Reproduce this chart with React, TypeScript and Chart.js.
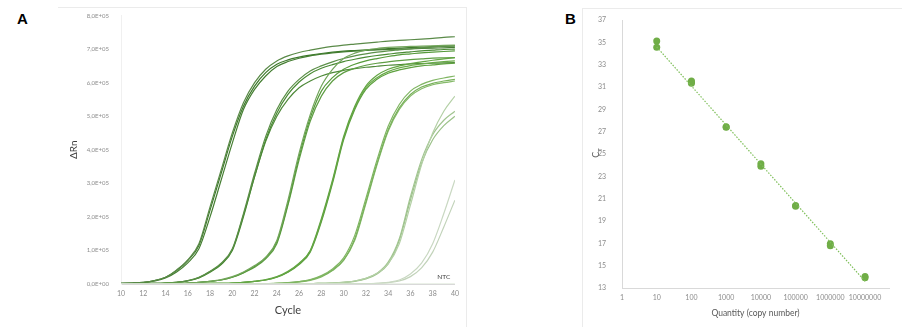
import React, { useEffect, useRef } from 'react';
import { Chart, registerables } from 'chart.js';

Chart.register(...registerables);

// ---------- Panel A: amplification curves (ΔRn, units of 1E+05) ----------
const CYCLES = [10, 11, 12, 13, 14, 15, 16, 17, 18, 19, 20, 21, 22, 23, 24, 25, 26, 27, 28, 29, 30, 31, 32, 33, 34, 35, 36, 37, 38, 39, 40];

const G1A = [0.02, 0.03, 0.05, 0.1, 0.2, 0.42, 0.72, 1.2, 2.3, 3.4, 4.5, 5.4, 6.0, 6.4, 6.65, 6.8, 6.9, 6.97, 7.03, 7.08, 7.12, 7.15, 7.18, 7.21, 7.24, 7.26, 7.28, 7.3, 7.32, 7.35, 7.37];
const G1B = [0.02, 0.03, 0.05, 0.1, 0.2, 0.4, 0.7, 1.15, 2.2, 3.3, 4.4, 5.3, 5.9, 6.3, 6.55, 6.68, 6.76, 6.82, 6.87, 6.91, 6.94, 6.96, 6.98, 7.0, 7.02, 7.03, 7.05, 7.06, 7.08, 7.09, 7.1];
const G1C = [0.02, 0.03, 0.04, 0.09, 0.18, 0.36, 0.63, 1.05, 2.0, 3.1, 4.2, 5.2, 5.8, 6.2, 6.48, 6.63, 6.73, 6.8, 6.85, 6.89, 6.92, 6.94, 6.96, 6.98, 6.99, 7.0, 7.01, 7.02, 7.03, 7.04, 7.05];

const G2A = [0.01, 0.01, 0.02, 0.02, 0.03, 0.05, 0.1, 0.2, 0.38, 0.62, 1.05, 2.1, 3.3, 4.4, 5.2, 5.75, 6.1, 6.35, 6.5, 6.62, 6.72, 6.8, 6.86, 6.91, 6.95, 6.98, 7.01, 7.04, 7.06, 7.08, 7.1];
const G2B = [0.01, 0.01, 0.02, 0.02, 0.03, 0.05, 0.09, 0.18, 0.35, 0.58, 1.0, 2.0, 3.2, 4.3, 5.1, 5.65, 6.02, 6.27, 6.43, 6.54, 6.63, 6.7, 6.76, 6.81, 6.85, 6.89, 6.92, 6.95, 6.97, 6.99, 7.0];
const G2C = [0.01, 0.01, 0.02, 0.02, 0.03, 0.05, 0.1, 0.19, 0.37, 0.6, 1.02, 2.05, 3.2, 4.25, 5.0, 5.5, 5.85, 6.05, 6.2, 6.3, 6.37, 6.42, 6.46, 6.49, 6.52, 6.54, 6.56, 6.57, 6.58, 6.59, 6.6];

const G3A = [0.01, 0.01, 0.01, 0.01, 0.02, 0.02, 0.03, 0.05, 0.08, 0.13, 0.22, 0.36, 0.55, 0.8, 1.3, 2.5, 3.9, 5.05, 5.9, 6.4, 6.72, 6.88, 6.97, 7.02, 7.05, 7.07, 7.08, 7.09, 7.1, 7.11, 7.12];
const G3B = [0.01, 0.01, 0.01, 0.01, 0.02, 0.02, 0.03, 0.05, 0.08, 0.12, 0.2, 0.34, 0.52, 0.78, 1.25, 2.4, 3.8, 4.95, 5.75, 6.15, 6.4, 6.55, 6.65, 6.72, 6.78, 6.83, 6.86, 6.89, 6.91, 6.93, 6.95];
const G3C = [0.01, 0.01, 0.01, 0.01, 0.02, 0.02, 0.03, 0.05, 0.08, 0.12, 0.2, 0.33, 0.5, 0.75, 1.2, 2.35, 3.7, 4.85, 5.6, 6.05, 6.3, 6.43, 6.52, 6.58, 6.62, 6.66, 6.69, 6.71, 6.73, 6.74, 6.75];

const G4A = [0.01, 0.01, 0.01, 0.01, 0.01, 0.01, 0.01, 0.01, 0.02, 0.02, 0.03, 0.05, 0.08, 0.13, 0.22, 0.38, 0.62, 1.0, 1.95, 3.1, 4.4, 5.3, 5.9, 6.22, 6.4, 6.5, 6.57, 6.62, 6.67, 6.71, 6.75];
const G4B = [0.01, 0.01, 0.01, 0.01, 0.01, 0.01, 0.01, 0.01, 0.02, 0.02, 0.03, 0.05, 0.08, 0.12, 0.2, 0.35, 0.58, 0.95, 1.85, 3.0, 4.3, 5.2, 5.8, 6.1, 6.28, 6.38, 6.45, 6.5, 6.53, 6.56, 6.58];
const G4C = [0.01, 0.01, 0.01, 0.01, 0.01, 0.01, 0.01, 0.01, 0.02, 0.02, 0.03, 0.05, 0.08, 0.12, 0.21, 0.36, 0.6, 0.98, 1.9, 3.05, 4.35, 5.25, 5.85, 6.15, 6.33, 6.44, 6.51, 6.56, 6.6, 6.63, 6.65];

const G5A = [0.01, 0.01, 0.01, 0.01, 0.01, 0.01, 0.01, 0.01, 0.01, 0.01, 0.01, 0.01, 0.01, 0.01, 0.02, 0.04, 0.07, 0.13, 0.25, 0.45, 0.78, 1.45, 2.55, 3.7, 4.7, 5.35, 5.75, 5.95, 6.07, 6.14, 6.2];
const G5B = [0.01, 0.01, 0.01, 0.01, 0.01, 0.01, 0.01, 0.01, 0.01, 0.01, 0.01, 0.01, 0.01, 0.01, 0.02, 0.04, 0.07, 0.12, 0.23, 0.42, 0.72, 1.35, 2.45, 3.6, 4.6, 5.25, 5.65, 5.87, 5.98, 6.05, 6.1];
const G5C = [0.01, 0.01, 0.01, 0.01, 0.01, 0.01, 0.01, 0.01, 0.01, 0.01, 0.01, 0.01, 0.01, 0.01, 0.02, 0.03, 0.06, 0.11, 0.21, 0.4, 0.7, 1.3, 2.4, 3.55, 4.55, 5.2, 5.6, 5.82, 5.94, 6.0, 6.05];

const G6A = [0.01, 0.01, 0.01, 0.01, 0.01, 0.01, 0.01, 0.01, 0.01, 0.01, 0.01, 0.01, 0.01, 0.01, 0.01, 0.01, 0.01, 0.01, 0.02, 0.03, 0.05, 0.09, 0.17, 0.32, 0.6, 1.2, 2.35, 3.55, 4.5, 5.15, 5.6];
const G6B = [0.01, 0.01, 0.01, 0.01, 0.01, 0.01, 0.01, 0.01, 0.01, 0.01, 0.01, 0.01, 0.01, 0.01, 0.01, 0.01, 0.01, 0.01, 0.02, 0.03, 0.05, 0.09, 0.17, 0.32, 0.65, 1.35, 2.6, 3.7, 4.45, 4.88, 5.15];
const G6C = [0.01, 0.01, 0.01, 0.01, 0.01, 0.01, 0.01, 0.01, 0.01, 0.01, 0.01, 0.01, 0.01, 0.01, 0.01, 0.01, 0.01, 0.01, 0.02, 0.03, 0.05, 0.08, 0.15, 0.3, 0.6, 1.3, 2.5, 3.6, 4.3, 4.72, 5.0];

const G7A = [0.01, 0.01, 0.01, 0.01, 0.01, 0.01, 0.01, 0.01, 0.01, 0.01, 0.01, 0.01, 0.01, 0.01, 0.01, 0.01, 0.01, 0.01, 0.01, 0.01, 0.01, 0.01, 0.01, 0.02, 0.05, 0.12, 0.3, 0.62, 1.2, 2.1, 3.1];
const G7B = [0.01, 0.01, 0.01, 0.01, 0.01, 0.01, 0.01, 0.01, 0.01, 0.01, 0.01, 0.01, 0.01, 0.01, 0.01, 0.01, 0.01, 0.01, 0.01, 0.01, 0.01, 0.01, 0.01, 0.02, 0.04, 0.09, 0.22, 0.48, 0.95, 1.7, 2.5];

const NTC = [0, 0, 0, 0, 0, 0, 0, 0, 0, 0, 0, 0, 0, 0, 0, 0, 0, 0, 0, 0, 0, 0, 0, 0, 0, 0, 0, 0, 0, 0, 0];

const Y_TICK_LABELS_A = ['0,0E+00', '1,0E+05', '2,0E+05', '3,0E+05', '4,0E+05', '5,0E+05', '6,0E+05', '7,0E+05', '8,0E+05'];

const CURVES_A = [
  { values: NTC, color: '#d8e4d2' },
  { values: G7A, color: '#c9d8c2' },
  { values: G7B, color: '#c2d3ba' },
  { values: G6A, color: '#b4d0a6' },
  { values: G6B, color: '#a2c591' },
  { values: G6C, color: '#9cc28a' },
  { values: G5A, color: '#80b663' },
  { values: G5B, color: '#78b15a' },
  { values: G5C, color: '#86ba6a' },
  { values: G4A, color: '#64a644' },
  { values: G4B, color: '#5ea13f' },
  { values: G4C, color: '#6aab4a' },
  { values: G3A, color: '#73a65c' },
  { values: G3B, color: '#569a3a' },
  { values: G3C, color: '#5f9e44' },
  { values: G2A, color: '#5b8f48' },
  { values: G2B, color: '#4a8a34' },
  { values: G2C, color: '#4f8a3a' },
  { values: G1A, color: '#5a8a48' },
  { values: G1B, color: '#3e7a2c' },
  { values: G1C, color: '#467f33' },
];

// ---------- Panel B: standard curve ----------
const QUANTITY = [10, 10, 100, 100, 100, 1000, 1000, 10000, 10000, 100000, 100000, 1000000, 1000000, 10000000, 10000000];
const CT_VALUES = [35.13, 34.57, 31.55, 31.45, 31.35, 27.45, 27.4, 24.14, 23.9, 20.4, 20.32, 16.97, 16.78, 14.04, 13.92];
const TREND_Q = [10, 10000000];
const TREND_CT = [34.6, 13.6];
const X_TICKS_B = [1, 10, 100, 1000, 10000, 100000, 1000000, 10000000];
const X_TICK_LABELS_B = ['1', '10', '100', '1000', '10000', '100000', '1000000', '10000000'];
const Y_TICKS_B = [13, 15, 17, 19, 21, 23, 25, 27, 29, 31, 33, 35, 37];

const FONT = 'Lato, "Open Sans", sans-serif';

const ntcLabel = {
  id: 'ntcLabel',
  afterDatasetsDraw(chart: any) {
    const { ctx, scales } = chart;
    ctx.save();
    ctx.font = `6.5px ${FONT}`;
    ctx.fillStyle = '#404040';
    ctx.textAlign = 'center';
    ctx.textBaseline = 'middle';
    ctx.fillText('NTC', scales.x.getPixelForValue(39.0), scales.y.getPixelForValue(0.2));
    ctx.restore();
  },
};

function ChartA() {
  const ref = useRef<HTMLCanvasElement>(null);
  useEffect(() => {
    const chart = new Chart(ref.current as HTMLCanvasElement, {
      type: 'line',
      data: {
        datasets: CURVES_A.map((c) => ({
          data: CYCLES.map((x, i) => ({ x, y: c.values[i] })),
          borderColor: c.color,
          borderWidth: 1.2,
          pointRadius: 0,
          fill: false,
          cubicInterpolationMode: 'monotone' as const,
        })),
      },
      options: {
        animation: false,
        responsive: false,
        maintainAspectRatio: false,
        events: [],
        layout: { padding: { top: 12, right: 7, left: 0, bottom: 0 } },
        plugins: { legend: { display: false }, tooltip: { enabled: false } },
        scales: {
          x: {
            type: 'linear',
            min: 10,
            max: 40,
            ticks: { stepSize: 2, color: '#8c8c8c', font: { family: FONT, size: 7 }, padding: 6, maxRotation: 0 },
            grid: { display: false, drawTicks: false },
            border: { display: true, color: '#d9d9d9' },
            title: { display: true, text: 'Cycle', color: '#404040', font: { family: FONT, size: 11 }, padding: { top: 0, bottom: 10 } },
            afterFit: (s: any) => { s.height = 43; },
          },
          y: {
            type: 'linear',
            min: 0,
            max: 8,
            ticks: {
              stepSize: 1,
              color: '#8c8c8c',
              font: { family: FONT, size: 6 },
              padding: 12,
              callback: (v: any) => Y_TICK_LABELS_A[Math.round(Number(v))],
            },
            grid: { display: false, drawTicks: false },
            border: { display: true, color: '#f0f0f0' },
            title: { display: true, text: 'ΔRn', color: '#404040', font: { family: FONT, size: 10 }, padding: { top: 8, bottom: 0 } },
            afterFit: (s: any) => { s.width = 61; },
          },
        },
      },
      plugins: [ntcLabel],
    } as any);
    return () => chart.destroy();
  }, []);
  return <canvas ref={ref} width={405} height={327} style={{ position: 'absolute', left: 60, top: 0, width: 405, height: 327 }} />;
}

function ChartB() {
  const ref = useRef<HTMLCanvasElement>(null);
  useEffect(() => {
    const chart = new Chart(ref.current as HTMLCanvasElement, {
      type: 'scatter',
      data: {
        datasets: [
          {
            data: TREND_Q.map((x, i) => ({ x, y: TREND_CT[i] })),
            showLine: true,
            borderColor: '#7fbf5a',
            borderWidth: 1.2,
            borderDash: [1.5, 1.5],
            pointRadius: 0,
          },
          {
            data: QUANTITY.map((x, i) => ({ x, y: CT_VALUES[i] })),
            backgroundColor: '#70ad47',
            borderColor: '#70ad47',
            pointRadius: 3.5,
            borderWidth: 0,
          },
        ],
      },
      options: {
        animation: false,
        responsive: false,
        maintainAspectRatio: false,
        events: [],
        layout: { padding: { top: 18, right: 13, left: 0, bottom: 0 } },
        plugins: { legend: { display: false }, tooltip: { enabled: false } },
        scales: {
          x: {
            type: 'logarithmic',
            min: 1,
            max: 49000000,
            afterBuildTicks: (s: any) => { s.ticks = X_TICKS_B.map((value) => ({ value })); },
            ticks: {
              autoSkip: false,
              maxRotation: 0,
              color: '#8c8c8c',
              font: { family: FONT, size: 7 },
              padding: 6,
              callback: (v: any) => X_TICK_LABELS_B[X_TICKS_B.indexOf(Number(v))],
            },
            grid: { display: false, drawTicks: false },
            border: { display: true, color: '#d9d9d9' },
            title: { display: true, text: 'Quantity (copy number)', color: '#595959', font: { family: FONT, size: 8.5 }, padding: { top: 0, bottom: 9 } },
            afterFit: (s: any) => { s.height = 39; },
          },
          y: {
            type: 'linear',
            min: 13,
            max: 37,
            afterBuildTicks: (s: any) => { s.ticks = Y_TICKS_B.map((value) => ({ value })); },
            ticks: { color: '#8c8c8c', font: { family: FONT, size: 7 }, padding: 16 },
            grid: { display: false, drawTicks: false },
            border: { display: true, color: '#d9d9d9' },
            afterFit: (s: any) => { s.width = 40; },
          },
        },
      },
    } as any);
    return () => chart.destroy();
  }, []);
  return <canvas ref={ref} width={320} height={327} style={{ position: 'absolute', left: 582, top: 0, width: 320, height: 327 }} />;
}

export default function App() {
  const letter: React.CSSProperties = {
    position: 'absolute',
    fontFamily: '"Liberation Sans", Arial, sans-serif',
    fontWeight: 'bold',
    fontSize: 15,
    lineHeight: '15px',
    color: '#000',
  };
  return (
    <div style={{ position: 'fixed', left: 0, top: 0, width: 902, height: 327, background: '#fff', overflow: 'hidden' }}>
      <div style={{ position: 'absolute', left: 58, top: 7, width: 409, height: 320, boxSizing: 'border-box', borderTop: '1px solid #ebebeb', borderRight: '1px solid #ebebeb' }} />
      <div style={{ position: 'absolute', left: 582, top: 8, width: 320, height: 319, boxSizing: 'border-box', borderTop: '1px solid #ebebeb', borderLeft: '1px solid #ebebeb' }} />
      <ChartA />
      <ChartB />
      <div style={{ ...letter, left: 17, top: 11 }}>A</div>
      <div style={{ ...letter, left: 565, top: 11 }}>B</div>
      <div
        style={{
          position: 'absolute',
          left: 586,
          top: 146,
          width: 20,
          height: 14,
          transform: 'rotate(-90deg)',
          fontFamily: FONT,
          fontSize: 9,
          lineHeight: '14px',
          color: '#595959',
          textAlign: 'center',
        }}
      >
        C<sub style={{ fontSize: 6 }}>T</sub>
      </div>
    </div>
  );
}
